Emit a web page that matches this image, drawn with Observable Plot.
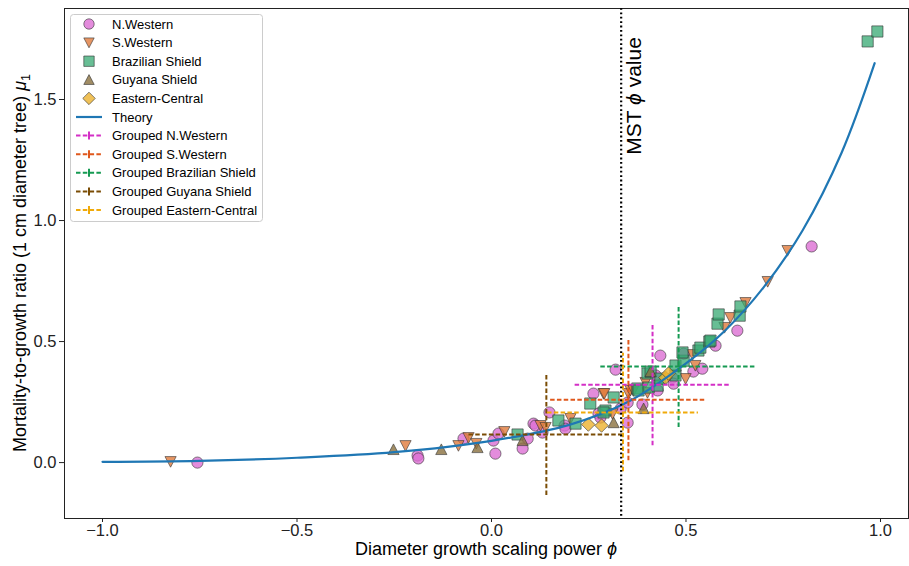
<!DOCTYPE html>
<html><head><meta charset="utf-8">
<script src="https://cdn.jsdelivr.net/npm/d3@7"></script>
<script src="https://cdn.jsdelivr.net/npm/@observablehq/plot@0.6"></script>
<style>body{margin:0;background:#fff;} #chart{width:909px;height:566px;}</style>
</head><body><div id="chart"></div>
<script>
// ---- data ----
const nwPhi = [-0.756,-0.190,-0.188,-0.072,0.005,0.010,0.018,0.080,0.093,0.108,0.113,0.131,0.149,0.188,0.190,0.262,0.275,0.280,0.319,0.332,0.350,0.350,0.388,0.422,0.427,0.434,0.465,0.468,0.494,0.519,0.542,0.576,0.632,0.823];
const nwMu  = [0.000,0.029,0.017,0.099,0.091,0.037,0.120,0.058,0.099,0.161,0.153,0.124,0.207,0.153,0.140,0.285,0.202,0.186,0.384,0.223,0.248,0.165,0.240,0.360,0.298,0.442,0.351,0.326,0.450,0.376,0.388,0.483,0.545,0.893];
const swPhi = [-0.825,-0.221,-0.085,-0.059,-0.039,0.033,0.126,0.139,0.203,0.288,0.290,0.311,0.352,0.357,0.365,0.396,0.401,0.499,0.517,0.524,0.599,0.614,0.653,0.710,0.761];
const swMu  = [0.004,0.070,0.070,0.103,0.079,0.128,0.153,0.145,0.182,0.285,0.285,0.202,0.285,0.298,0.298,0.331,0.289,0.347,0.446,0.401,0.558,0.599,0.661,0.748,0.876];
const bsPhi = [0.067,0.172,0.216,0.254,0.293,0.288,0.314,0.375,0.378,0.404,0.401,0.409,0.427,0.434,0.473,0.473,0.494,0.491,0.532,0.537,0.560,0.563,0.581,0.584,0.638,0.640,0.967,0.992];
const bsMu  = [0.116,0.174,0.161,0.244,0.215,0.207,0.269,0.306,0.298,0.310,0.368,0.376,0.318,0.347,0.360,0.401,0.421,0.455,0.463,0.475,0.500,0.504,0.574,0.612,0.607,0.645,1.740,1.781];
const gsPhi = [-0.252,-0.129,-0.036,0.080,0.314,0.391,0.409];
const gsMu  = [0.054,0.054,0.062,0.091,0.165,0.223,0.376];
const ecPhi = [0.249,0.283,0.447,0.455];
const ecMu  = [0.157,0.153,0.351,0.368];

const theoryPhi = [-1.0,-0.75,-0.5,-0.25,0.0,0.2,0.35,0.5,0.6,0.7,0.8,0.9,0.985];
const theoryMu  = [0.003,0.007,0.020,0.043,0.090,0.156,0.250,0.410,0.545,0.725,0.960,1.280,1.650];

const groupNames = ["N.Western","S.Western","Brazilian Shield","Guyana Shield","Eastern-Central"];
const groupedPhi    = [0.414,0.352,0.481,0.141,0.338];
const groupedMu     = [0.322,0.260,0.397,0.116,0.207];
const groupedPhiErr = [0.199,0.200,0.200,0.199,0.194];
const groupedMuErr  = [0.252,0.252,0.252,0.252,0.245];

const mstPhi = 1/3;
const xTicks = [-1.0,-0.5,0.0,0.5,1.0];
const yTicks = [0.0,0.5,1.0,1.5];

// ---- styles ----
const FONT = "'Liberation Sans', Arial, Helvetica, sans-serif";
const sym = fn => ({draw(ctx, size){ const h = Math.sqrt(size/Math.PI); fn(ctx, h); }});
const triDown = sym((c,h)=>{c.moveTo(0,h);c.lineTo(-h,-h*0.9);c.lineTo(h,-h*0.9);c.closePath();});
const triUp   = sym((c,h)=>{c.moveTo(0,-h);c.lineTo(-h,h*0.9);c.lineTo(h,h*0.9);c.closePath();});
const sqr     = sym((c,h)=>{c.moveTo(-h,-h);c.lineTo(h,-h);c.lineTo(h,h);c.lineTo(-h,h);c.closePath();});
const dmd     = sym((c,h)=>{const d=h*1.2;c.moveTo(0,-d);c.lineTo(d,0);c.lineTo(0,d);c.lineTo(-d,0);c.closePath();});
const circ    = sym((c,h)=>{c.moveTo(h,0);c.arc(0,0,h,0,2*Math.PI);});

const scatterStyles = [
  {phi: nwPhi, mu: nwMu, symbol: circ,    fill: "#dc6fd3", op: 0.8},
  {phi: swPhi, mu: swMu, symbol: triDown, fill: "#e07b3c", op: 0.8},
  {phi: bsPhi, mu: bsMu, symbol: sqr,     fill: "#35a872", op: 0.75},
  {phi: gsPhi, mu: gsMu, symbol: triUp,   fill: "#8a703e", op: 0.8},
  {phi: ecPhi, mu: ecMu, symbol: dmd,     fill: "#ecb22e", op: 0.8}
];
const groupedColors = ["#d42fc6","#e0581c","#159a52","#7a4c05","#f0aa0a"];
const theoryColor = "#1f77b4";
const R = 5.6;

const marks = [Plot.frame({stroke: "#222", strokeWidth: 1})];
scatterStyles.forEach(s => {
  const data = s.phi.map((p,i) => ({phi: p, mu: s.mu[i]}));
  marks.push(Plot.dot(data, {x: "phi", y: "mu", r: R, symbol: s.symbol, fill: s.fill, fillOpacity: s.op,
    stroke: "#333", strokeOpacity: 0.6, strokeWidth: 1}));
});
const theory = theoryPhi.map((p,i) => ({phi: p, mu: theoryMu[i]}));
marks.push(Plot.line(theory, {x: "phi", y: "mu", stroke: theoryColor, strokeWidth: 2.2, curve: "catmull-rom"}));
const grouped = groupNames.map((n,i) => ({name: n, phi: groupedPhi[i], mu: groupedMu[i], pe: groupedPhiErr[i], me: groupedMuErr[i], color: groupedColors[i]}));
grouped.forEach(g => {
  marks.push(Plot.ruleY([g], {y: "mu", x1: d => d.phi - d.pe, x2: d => d.phi + d.pe, stroke: g.color, strokeWidth: 2, strokeDasharray: "4.5,2.3"}));
  marks.push(Plot.ruleX([g], {x: "phi", y1: d => d.mu - d.me, y2: d => d.mu + d.me, stroke: g.color, strokeWidth: 2, strokeDasharray: "4.5,2.3"}));
});
marks.push(Plot.ruleX([mstPhi], {stroke: "#000", strokeWidth: 2.2, strokeDasharray: "1.8,2.6"}));

const fmt = d3.format(".1f");
const chart = Plot.plot({
  width: 909, height: 566,
  marginLeft: 64, marginRight: 1, marginTop: 8, marginBottom: 48,
  style: {fontFamily: FONT, fontSize: "16.5px", color: "#222", background: "#fff"},
  x: {domain: [-1.0977, 1.072], ticks: xTicks, tickFormat: fmt, tickSize: 4, tickPadding: 2, label: null},
  y: {domain: [-0.231, 1.876], ticks: yTicks, tickFormat: fmt, tickSize: 5, tickPadding: 3, label: null},
  marks
});
document.getElementById("chart").appendChild(chart);

// ---- labels, annotation, legend ----
const svg = d3.select(chart);
const xs = chart.scale("x"), ys = chart.scale("y");

const xl = svg.append("text").attr("x", (64+908)/2).attr("y", 555).attr("text-anchor","middle")
  .style("font-family", FONT).style("font-size","18px").attr("fill","#000");
xl.append("tspan").text("Diameter growth scaling power ");
xl.append("tspan").style("font-style","italic").text("ϕ");

const yl = svg.append("text").attr("transform", `translate(26,${(8+518)/2}) rotate(-90)`).attr("text-anchor","middle")
  .style("font-family", FONT).style("font-size","18px").attr("fill","#000");
yl.append("tspan").text("Mortality-to-growth ratio (1 cm diameter tree) ");
yl.append("tspan").style("font-style","italic").text("μ");
yl.append("tspan").attr("dy", 4).style("font-size","12.5px").text("1");

const mx = xs.apply(mstPhi) + 20, my = ys.apply(1.27);
const mt = svg.append("text").attr("transform", `translate(${mx},${my}) rotate(-90)`).attr("text-anchor","start")
  .style("font-family", FONT).style("font-size","21px").attr("fill","#000");
mt.append("tspan").text("MST ");
mt.append("tspan").style("font-style","italic").text("ϕ");
mt.append("tspan").text(" value");

const lg = svg.append("g");
lg.append("rect").attr("x",70.5).attr("y",14.5).attr("width",192).attr("height",207).attr("rx",3)
  .attr("fill","#fff").attr("fill-opacity",0.8).attr("stroke","#cccccc").attr("stroke-width",1);
const rowY = i => 24 + i*18.6;
const mX = 89, tX = 112;
const addText = (i, t) => lg.append("text").attr("x", tX).attr("y", rowY(i)).attr("dy","0.35em").attr("text-anchor","start")
  .style("font-family", FONT).style("font-size","13px").attr("fill","#000").text(t);
scatterStyles.forEach((s,i) => {
  const p = d3.path(); s.symbol.draw(p, 5.2*5.2*Math.PI);
  lg.append("path").attr("d", p.toString()).attr("transform", `translate(${mX},${rowY(i)})`)
    .attr("fill", s.fill).attr("fill-opacity", s.op).attr("stroke","#333").attr("stroke-opacity",0.6);
  addText(i, groupNames[i]);
});
lg.append("line").attr("x1",76).attr("x2",102).attr("y1",rowY(5)).attr("y2",rowY(5)).attr("stroke",theoryColor).attr("stroke-width",2.2);
addText(5, "Theory");
grouped.forEach((g,i) => {
  const y = rowY(6+i);
  lg.append("line").attr("x1",76).attr("x2",102).attr("y1",y).attr("y2",y).attr("stroke",g.color).attr("stroke-width",2).attr("stroke-dasharray","4.5,2.3");
  lg.append("line").attr("x1",mX).attr("x2",mX).attr("y1",y-4).attr("y2",y+4).attr("stroke",g.color).attr("stroke-width",2);
  addText(6+i, "Grouped " + g.name);
});
</script></body></html>
